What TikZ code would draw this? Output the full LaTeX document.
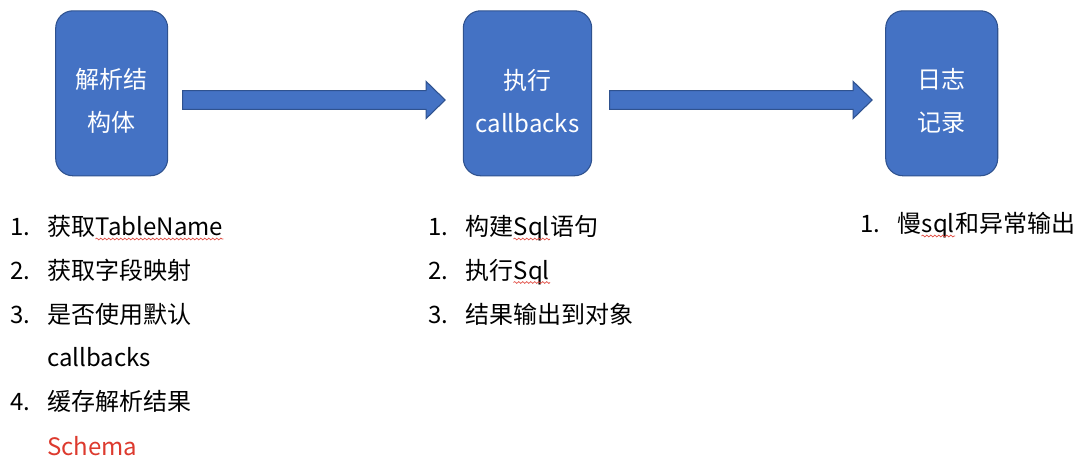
\documentclass[tikz,border=0pt]{standalone}
\usepackage{xcolor}
\usepackage{fontspec}
\setmainfont{Noto Sans CJK SC}
\usetikzlibrary{calc,decorations.pathmorphing}

\definecolor{boxblue}{HTML}{4472C4}
\definecolor{boxedge}{HTML}{2F528F}
\definecolor{wavered}{HTML}{E0443A}
\definecolor{schemared}{HTML}{DD3A2E}

\tikzset{
  procbox/.style={draw=boxedge, fill=boxblue, line width=0.8pt, rounded corners=13pt,
    minimum height=123.75pt, minimum width=84pt, inner sep=0pt},
  boxtext/.style={text=white, align=center, font=\fontsize{18}{32}\selectfont, inner sep=0pt},
  blockarrow/.style={draw=boxedge, fill=boxblue, line width=0.8pt},
  listnum/.style={anchor=base west, inner sep=0pt, font=\fontsize{18}{22}\selectfont},
  listtext/.style={anchor=base west, inner sep=0pt, font=\fontsize{18}{22}\selectfont},
  spellwave/.style={draw=wavered, line width=0.5pt, decorate,
    decoration={snake, amplitude=0.7pt, segment length=3pt}},
}

\begin{document}
\begin{tikzpicture}[x=0.75pt, y=-0.75pt]
    \path[use as bounding box, fill=white] (0,0) rectangle (1080,466);

    % the three steps
    \node[procbox] (parse) at (111.7,93.3) {};
    \node[procbox, minimum width=96.3pt] (exec) at (527.5,93.3) {};
    \node[procbox] (log) at (941.7,93.3) {};
    \node[boxtext] (parse-text) at ($(parse)+(0,7.7)$) {解析结\\构体};
    \node[boxtext] (exec-text) at ($(exec)+(0,7.7)$) {执行\\callbacks};
    \node[boxtext] (log-text) at ($(log)+(0,7.7)$) {日志\\记录};

    % block arrows between the steps
    \foreach \a/\b/\g/\h in {parse/exec/14.3/17.6, exec/log/17.3/13} {
      \path ($(\a.east)+(\g,6.7)$) coordinate (s) ($(\b.west)+(-\h,6.7)$) coordinate (t);
      \draw[blockarrow] ($(s)+(0,-9.3)$) -- ($(t)+(-19,-9.3)$) -- ($(t)+(-19,-18.5)$) -- (t)
        -- ($(t)+(-19,18.5)$) -- ($(t)+(-19,9.3)$) -- ($(s)+(0,9.3)$) -- cycle;
    }

    % left list
    \node[listnum] (l1) at (10,236) {1.};
    \node[listnum] (l2) at (10,279.5) {2.};
    \node[listnum] (l3) at (10,323) {3.};
    \node[listnum] (l4) at (10,410.5) {4.};
    \node[listtext] (l1a) at (47,236) {获取};
    \node[listtext] (l1b) at (l1a.base east) {TableName};
    \node[listtext] (l2a) at (47,279.5) {获取字段映射};
    \node[listtext] (l3a) at (47,323) {是否使用默认};
    \node[listtext] (l3b) at (47,366.7) {callbacks};
    \node[listtext] (l4a) at (47,410.5) {缓存解析结果};
    \node[listtext, text=schemared] (l4b) at (47,455) {Schema};
    \draw[spellwave] ($(l1b.base west)+(0,3)$) -- ($(l1b.base east)+(0,3)$);

    % middle list
    \node[listnum] (m1) at (428,236) {1.};
    \node[listnum] (m2) at (428,279.5) {2.};
    \node[listnum] (m3) at (428,323) {3.};
    \node[listtext] (m1a) at (465,236) {构建};
    \node[listtext] (m1b) at (m1a.base east) {Sql};
    \node[listtext] (m1c) at (m1b.base east) {语句};
    \node[listtext] (m2a) at (465,279.5) {执行};
    \node[listtext] (m2b) at (m2a.base east) {Sql};
    \node[listtext] (m3a) at (465,323) {结果输出到对象};
    \draw[spellwave] ($(m1b.base west)+(0,3)$) -- ($(m1b.base east)+(0,3)$);
    \draw[spellwave] ($(m2b.base west)+(0,3)$) -- ($(m2b.base east)+(0,3)$);

    % right list
    \node[listnum] (r1) at (860,233) {1.};
    \node[listtext] (r1a) at (897,233) {慢};
    \node[listtext] (r1b) at (r1a.base east) {sql};
    \node[listtext] (r1c) at (r1b.base east) {和异常输出};
    \draw[spellwave] ($(r1b.base west)+(0,3)$) -- ($(r1b.base east)+(0,3)$);
\end{tikzpicture}
\end{document}
